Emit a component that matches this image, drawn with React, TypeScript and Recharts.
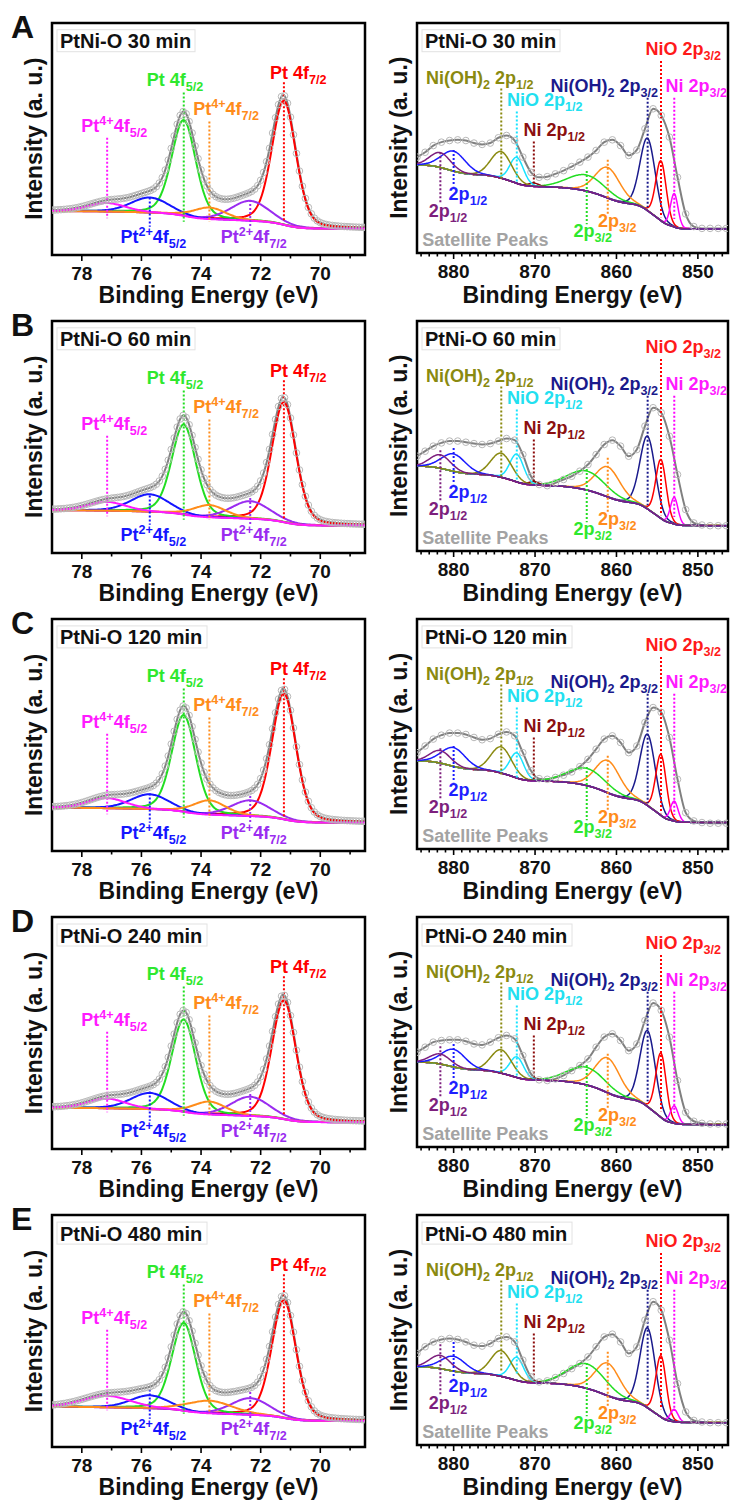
import React from "react";
import {
  ComposedChart,
  Line,
  XAxis,
  YAxis,
  ReferenceLine,
  ReferenceDot,
  ReferenceArea,
} from "recharts";

// XPS Pt 4f / Ni 2p fits for PtNi-O, 5 oxidation times
// intensities are in % of the plot height (0 = bottom of frame)

const FONT = '"Liberation Sans", Arial, Helvetica, sans-serif';

// ---- Pt 4f components: [Pt 4f7/2, Pt 4f5/2, Pt2+ 4f7/2, Pt2+ 4f5/2, Pt4+ 4f7/2, Pt4+ 4f5/2]
const PT_CENTER = [71.22, 74.58, 72.35, 75.72, 73.72, 77.15];
const PT_FWHM = [0.95, 0.95, 1.5, 1.5, 1.3, 1.5];
const PT_FWHM_480 = [0.95, 0.95, 1.5, 1.5, 1.8, 1.9];
const PT_COLOR = ["#ff0000", "#22dd22", "#9a2cf0", "#1515ff", "#ff8c1a", "#ff1aff"];
const PT_HEIGHT_30 = [53.5, 41.4, 8.6, 6.6, 5.0, 3.7];
const PT_HEIGHT_60 = [51.8, 38.9, 7.6, 7.6, 5.3, 3.8];
const PT_HEIGHT_120 = [54.3, 41.8, 6.8, 6.5, 6.2, 4.4];
const PT_HEIGHT_240 = [51.3, 39.9, 8.3, 7.1, 5.6, 4.2];
const PT_HEIGHT_480 = [50.8, 38.0, 7.2, 5.7, 5.5, 5.0];
// Shirley background end levels [low BE side, high BE side]
const PT_BG_30 = [11.3, 18.9];
const PT_BG_60 = [11.8, 18.4];
const PT_BG_120 = [12.2, 18.6];
const PT_BG_240 = [11.5, 17.7];
const PT_BG_480 = [11.2, 17.3];
const PT_TICKS = [69, 70, 71, 72, 73, 74, 75, 76, 77, 78];

// ---- Ni 2p components:
// [Ni(OH)2 2p3/2, NiO 2p3/2, Ni 2p3/2, sat 2p3/2 (orange), sat 2p3/2 (green),
//  Ni 2p1/2, NiO 2p1/2, Ni(OH)2 2p1/2, sat 2p1/2 (blue), sat 2p1/2 (purple)]
const NI_CENTER = [856.17, 854.53, 852.9, 861.07, 863.65, 870.15, 872.24, 874.15, 880.0, 881.63];
const NI_FWHM = [2.2, 1.5, 1.1, 3.6, 5.5, 1.5, 2.0, 3.0, 3.5, 3.0];
const NI_COLOR = ["#1a1a8c", "#ff0000", "#ff00ff", "#ff8c1a", "#22dd22", "#8b0a0a", "#19e3ff", "#8a8a10", "#1a1aff", "#7d1f7d"];
const NI_HEIGHT_30 = [31.5, 26.1, 14.5, 13.3, 7.0, 1.5, 11.3, 11.6, 8.7, 6.5];
const NI_HEIGHT_60 = [31.7, 25.7, 11.6, 13.1, 8.3, 1.5, 12.1, 10.5, 7.6, 5.9];
const NI_HEIGHT_120 = [31.0, 26.6, 8.7, 14.1, 7.5, 0.5, 10.9, 11.4, 8.2, 5.5];
const NI_HEIGHT_240 = [33.1, 28.0, 7.6, 15.2, 7.7, 0.7, 9.0, 10.2, 7.7, 4.4];
const NI_HEIGHT_480 = [34.8, 26.7, 5.4, 14.2, 10.7, 0.9, 10.1, 11.2, 6.5, 5.8];
const NI_BG_30 = [10.4, 38.3];
const NI_BG_60 = [11.0, 36.9];
const NI_BG_120 = [11.5, 38.3];
const NI_BG_240 = [9.7, 36.9];
const NI_BG_480 = [9.7, 34.0];
// measured Ni 2p spectrum, 884.5 eV down to 846.5 eV in 1 eV steps
const NI_SPEC_30 = [41.7, 43.8, 46.7, 48.2, 48.9, 49.2, 48.9, 47.8, 47.2, 47.8, 50.1, 51.1, 48.9, 41.7, 35.1, 32.9, 33.2, 34.4, 35.8, 37.6, 39.5, 41.7, 44.6, 48.2, 49.2, 46.7, 42.4, 44.8, 54.0, 62.7, 59.8, 50.4, 32.9, 17.0, 11.5, 10.7, 10.7, 10.7, 10.7];
const NI_SPEC_60 = [41.2, 43.4, 45.6, 47.0, 47.8, 47.8, 47.3, 46.7, 46.3, 46.7, 47.8, 48.9, 48.2, 41.9, 32.5, 28.9, 28.4, 29.6, 31.1, 32.5, 34.7, 37.6, 41.9, 46.3, 48.2, 45.6, 41.2, 44.1, 54.3, 62.3, 60.1, 49.9, 33.2, 18.0, 12.2, 11.3, 11.0, 11.0, 11.0];
const NI_SPEC_120 = [41.9, 44.8, 47.8, 49.5, 50.4, 50.4, 49.8, 48.5, 47.5, 48.0, 49.9, 50.9, 49.2, 41.9, 34.0, 30.6, 30.3, 31.1, 32.1, 33.5, 35.8, 39.0, 43.4, 47.8, 49.2, 46.3, 41.9, 44.8, 55.0, 61.5, 59.4, 48.5, 30.3, 15.8, 12.2, 11.5, 11.2, 11.2, 11.2];
const NI_SPEC_240 = [41.2, 43.4, 45.6, 46.3, 46.6, 46.6, 46.0, 44.8, 44.4, 45.6, 47.5, 48.5, 47.0, 39.8, 31.8, 29.2, 28.9, 29.6, 31.1, 33.2, 35.4, 38.3, 43.4, 47.8, 49.2, 46.3, 41.9, 44.8, 55.0, 62.6, 59.4, 47.8, 28.9, 15.1, 11.2, 10.3, 10.0, 10.0, 10.0];
const NI_SPEC_480 = [39.8, 42.7, 44.8, 45.9, 46.3, 45.9, 44.8, 43.4, 43.0, 44.1, 46.3, 47.0, 44.8, 36.9, 29.6, 27.4, 27.9, 29.3, 31.1, 33.2, 35.4, 38.3, 42.7, 47.0, 48.2, 44.8, 39.8, 42.7, 54.3, 62.3, 58.6, 45.6, 26.7, 14.4, 10.7, 10.0, 9.7, 9.7, 9.7];
const NI_TICKS = Array.from({ length: 38 }, (_, i) => 847 + i);

const ROWS = [
  { letter: "A", title: "PtNi-O 30 min", ptH: PT_HEIGHT_30, ptBg: PT_BG_30, ptW: PT_FWHM, niH: NI_HEIGHT_30, niBg: NI_BG_30, spec: NI_SPEC_30 },
  { letter: "B", title: "PtNi-O 60 min", ptH: PT_HEIGHT_60, ptBg: PT_BG_60, ptW: PT_FWHM, niH: NI_HEIGHT_60, niBg: NI_BG_60, spec: NI_SPEC_60 },
  { letter: "C", title: "PtNi-O 120 min", ptH: PT_HEIGHT_120, ptBg: PT_BG_120, ptW: PT_FWHM, niH: NI_HEIGHT_120, niBg: NI_BG_120, spec: NI_SPEC_120 },
  { letter: "D", title: "PtNi-O 240 min", ptH: PT_HEIGHT_240, ptBg: PT_BG_240, ptW: PT_FWHM, niH: NI_HEIGHT_240, niBg: NI_BG_240, spec: NI_SPEC_240 },
  { letter: "E", title: "PtNi-O 480 min", ptH: PT_HEIGHT_480, ptBg: PT_BG_480, ptW: PT_FWHM_480, niH: NI_HEIGHT_480, niBg: NI_BG_480, spec: NI_SPEC_480 },
];

type Part = [string, ("sub" | "sup")?];
interface PeakLabel { parts: Part[]; x: number; y: number; color: string; }

const PT_LABELS: PeakLabel[] = [
  { parts: [["Pt 4f"], ["7/2", "sub"]], x: 70.74, y: 75.7, color: "#ff0000" },
  { parts: [["Pt 4f"], ["5/2", "sub"]], x: 74.87, y: 72.7, color: "#2ee82e" },
  { parts: [["Pt"], ["4+", "sup"], ["4f"], ["7/2", "sub"]], x: 73.16, y: 60.3, color: "#ff8c1a" },
  { parts: [["Pt"], ["4+", "sup"], ["4f"], ["5/2", "sub"]], x: 76.91, y: 53.1, color: "#ff1aff" },
  { parts: [["Pt"], ["2+", "sup"], ["4f"], ["5/2", "sub"]], x: 75.6, y: 5.0, color: "#1515ff" },
  { parts: [["Pt"], ["2+", "sup"], ["4f"], ["7/2", "sub"]], x: 72.23, y: 5.0, color: "#9a2cf0" },
];
// dotted marker [top, bottom] for each Pt component
const PT_MARK = [[74.5, 14.3], [70.0, 14.3], [23.7, 12.2], [24.8, 12.2], [57.5, 14.3], [50.5, 15.8]];

const NI_LABELS: PeakLabel[] = [
  { parts: [["Ni(OH)"], ["2", "sub"], [" 2p"], ["1/2", "sub"]], x: 876.8, y: 73.6, color: "#8a8a10" },
  { parts: [["NiO 2p"], ["1/2", "sub"]], x: 868.8, y: 63.7, color: "#22e0f0" },
  { parts: [["Ni 2p"], ["1/2", "sub"]], x: 867.65, y: 50.7, color: "#8b1010" },
  { parts: [["Ni(OH)"], ["2", "sub"], [" 2p"], ["3/2", "sub"]], x: 861.5, y: 69.8, color: "#1a1a8c" },
  { parts: [["NiO 2p"], ["3/2", "sub"]], x: 851.8, y: 85.9, color: "#ff1a1a" },
  { parts: [["Ni 2p"], ["3/2", "sub"]], x: 850.2, y: 69.8, color: "#ff1aff" },
  { parts: [["2p"], ["1/2", "sub"]], x: 880.7, y: 15.7, color: "#7d1f7d" },
  { parts: [["2p"], ["1/2", "sub"]], x: 878.25, y: 22.9, color: "#1f1fff" },
  { parts: [["2p"], ["3/2", "sub"]], x: 862.9, y: 6.8, color: "#2ee82e" },
  { parts: [["2p"], ["3/2", "sub"]], x: 859.9, y: 11.3, color: "#ff8c1a" },
  { parts: [["Satellite Peaks"]], x: 876.1, y: 3.2, color: "#a3a3a3" },
];
const NI_MARK = [[67.5, 19.9], [83.5, 15.5], [67.5, 14.8], [40.5, 16.5], [35.6, 12.5], [48.5, 30.3], [61.5, 30.8], [71.5, 31.5], [44.8, 29.0], [43.8, 21.5]];

// layout
const ROW_TOP = 22.7;
const ROW_STEP = 298.1;
const PT_BOX = { left: 52, right: 365, h: 232 };
const NI_BOX = { left: 417, right: 728, h: 230 };
const AXIS_H = 40;

function pv(x: number, c: number, h: number, w: number, eta: number) {
  const t = (x - c) / w;
  return h * ((1 - eta) * Math.exp(-4 * Math.LN2 * t * t) + eta / (1 + 4 * t * t));
}

// component curves on a Shirley background
function buildFit(lo: number, hi: number, step: number, centers: number[], fwhm: number[], heights: number[], bg: number[], eta: number) {
  const n = Math.round((hi - lo) / step);
  const pts: { e: number; comps: number[]; sum: number }[] = [];
  for (let k = 0; k <= n; k++) {
    const e = +(lo + k * step).toFixed(2);
    const comps = centers.map((c, i) => pv(e, c, heights[i], fwhm[i], eta));
    pts.push({ e, comps, sum: comps.reduce((a, b) => a + b, 0) });
  }
  const total = pts.reduce((a, p) => a + p.sum, 0);
  let acc = 0;
  return pts.map((p, k) => {
    acc += p.sum;
    const b = bg[0] + (bg[1] - bg[0]) * (acc / total);
    const row: any = { e: p.e, k, fit: b + p.sum };
    p.comps.forEach((v, i) => (row["c" + i] = b + v));
    return row;
  });
}

function RichText({ cx, cy, parts, color, size = 18 }: any) {
  let shift = 0;
  return (
    <text x={cx} y={cy} textAnchor="middle" fill={color} fontFamily={FONT} fontWeight="bold" fontSize={size} style={{ whiteSpace: "pre" }}>
      {parts.map((p: Part, i: number) => {
        const target = p[1] === "sub" ? 5 : p[1] === "sup" ? -7 : 0;
        const dy = target - shift;
        shift = target;
        return (
          <tspan key={i} dy={dy} fontSize={p[1] ? size * 0.7 : size}>
            {p[0]}
          </tspan>
        );
      })}
    </text>
  );
}

function AxisTick(props: any) {
  const { x, y, payload, major } = props;
  const v = payload.value;
  const isMajor = v % major === 0;
  return (
    <g>
      <line x1={x} x2={x} y1={y} y2={y + (isMajor ? 6 : 3.5)} stroke="#000" strokeWidth={1.6} />
      {isMajor && (
        <text x={x} y={y + 25} textAnchor="middle" fontFamily={FONT} fontWeight="bold" fontSize={19} fill="#111">
          {v}
        </text>
      )}
    </g>
  );
}

const circleDot = { r: 3.3, stroke: "#b8b8b8", strokeWidth: 1, fill: "none" };

function PtPanel({ row, top }: any) {
  const data = buildFit(68.5, 79, 0.05, PT_CENTER, row.ptW, row.ptH, row.ptBg, 0.25).map((r: any) => ({
    ...r,
    pt: r.k % 2 === 0 ? r.fit : null,
  }));
  return (
    <div style={{ position: "absolute", left: 0, top: top - 10 }}>
      <ComposedChart width={PT_BOX.right + 10} height={PT_BOX.h + 10 + AXIS_H} data={data} margin={{ top: 10, right: 10, bottom: 0, left: PT_BOX.left }}>
        <XAxis type="number" dataKey="e" domain={[68.5, 79]} reversed allowDataOverflow ticks={PT_TICKS} interval={0}
          tick={<AxisTick major={2} />} tickLine={false} axisLine={false} tickSize={0} tickMargin={0} height={AXIS_H} />
        <YAxis hide type="number" domain={[0, 100]} allowDataOverflow />
        <Line dataKey="pt" stroke="none" dot={circleDot} activeDot={false} isAnimationActive={false} />
        <Line dataKey="fit" stroke="#808080" strokeWidth={2} dot={false} type="monotone" isAnimationActive={false} />
        {PT_CENTER.map((_, i) => (
          <Line key={i} dataKey={"c" + i} stroke={PT_COLOR[i]} strokeWidth={2} dot={false} type="monotone" isAnimationActive={false} />
        ))}
        {PT_CENTER.map((c, i) => (
          <ReferenceLine key={"m" + i} segment={[{ x: c, y: PT_MARK[i][0] }, { x: c, y: PT_MARK[i][1] }]}
            stroke={PT_COLOR[i]} strokeWidth={2} strokeDasharray="2 2" ifOverflow="visible" />
        ))}
        {PT_LABELS.map((l, i) => (
          <ReferenceDot key={"l" + i} x={l.x} y={l.y} r={0} ifOverflow="visible"
            shape={(p: any) => <RichText cx={p.cx} cy={p.cy} parts={l.parts} color={l.color} />} />
        ))}
        <ReferenceArea x1={79} x2={68.5} y1={0} y2={100} fill="none" fillOpacity={0} stroke="#000" strokeWidth={2.5} ifOverflow="visible" />
      </ComposedChart>
    </div>
  );
}

function NiPanel({ row, top }: any) {
  const data = buildFit(846.5, 884.5, 0.1, NI_CENTER, NI_FWHM, row.niH, row.niBg, 0.1).map((r: any) => ({
    ...r,
    env: r.k % 10 === 0 ? row.spec[38 - r.k / 10] : null,
  }));
  return (
    <div style={{ position: "absolute", left: NI_BOX.left - 17, top: top - 10 }}>
      <ComposedChart width={NI_BOX.right - NI_BOX.left + 19} height={NI_BOX.h + 10 + AXIS_H} data={data} margin={{ top: 10, right: 2, bottom: 0, left: 17 }}>
        <XAxis type="number" dataKey="e" domain={[846.3, 884.5]} reversed allowDataOverflow ticks={NI_TICKS} interval={0}
          tick={<AxisTick major={10} />} tickLine={false} axisLine={false} tickSize={0} tickMargin={0} height={AXIS_H} />
        <YAxis hide type="number" domain={[0, 100]} allowDataOverflow />
        <Line dataKey="env" stroke="none" dot={circleDot} activeDot={false} isAnimationActive={false} />
        <Line dataKey="env" stroke="#808080" strokeWidth={2} dot={false} type="monotone" connectNulls isAnimationActive={false} />
        {NI_CENTER.map((_, i) => (
          <Line key={i} dataKey={"c" + i} stroke={NI_COLOR[i]} strokeWidth={1.5} dot={false} type="monotone" isAnimationActive={false} />
        ))}
        {NI_CENTER.map((c, i) => (
          <ReferenceLine key={"m" + i} segment={[{ x: c, y: NI_MARK[i][0] }, { x: c, y: NI_MARK[i][1] }]}
            stroke={NI_COLOR[i]} strokeWidth={2} strokeDasharray="2 2" ifOverflow="visible" />
        ))}
        {NI_LABELS.map((l, i) => (
          <ReferenceDot key={"l" + i} x={l.x} y={l.y} r={0} ifOverflow="visible"
            shape={(p: any) => <RichText cx={p.cx} cy={p.cy} parts={l.parts} color={l.color} />} />
        ))}
        <ReferenceArea x1={884.5} x2={846.3} y1={0} y2={100} fill="none" fillOpacity={0} stroke="#000" strokeWidth={2.5} ifOverflow="visible" />
      </ComposedChart>
    </div>
  );
}

export default function App() {
  return (
    <div style={{ position: "absolute", left: 0, top: 0, width: 730, height: 1504, overflow: "hidden", background: "#fff", fontFamily: FONT }}>
      {ROWS.map((row, i) => {
        const top = ROW_TOP + ROW_STEP * i;
        return (
          <React.Fragment key={row.letter}>
            <PtPanel row={row} top={top} />
            <NiPanel row={row} top={top} />
          </React.Fragment>
        );
      })}
      <svg width={730} height={1504} style={{ position: "absolute", left: 0, top: 0, pointerEvents: "none" }}>
        {ROWS.map((row, i) => {
          const top = ROW_TOP + ROW_STEP * i;
          const tw = row.title.length > 13 ? 150 : 138;
          const ptMid = (PT_BOX.left + PT_BOX.right) / 2;
          const niMid = (NI_BOX.left + NI_BOX.right) / 2;
          return (
            <g key={row.letter} fontFamily={FONT} fontWeight="bold" fill="#111">
              <text x={11} y={top + 15} fontSize={32}>{row.letter}</text>
              {[PT_BOX.left + 5, NI_BOX.left + 5].map((bx) => (
                <g key={bx}>
                  <rect x={bx} y={top + 7} width={tw} height={22} fill="#fff" stroke="#e2e2e2" strokeWidth={1} />
                  <text x={bx + 3} y={top + 25.5} fontSize={20}>{row.title}</text>
                </g>
              ))}
              <text transform={`translate(${42},${top + PT_BOX.h / 2}) rotate(-90)`} textAnchor="middle" fontSize={23}>Intensity (a. u.)</text>
              <text transform={`translate(${407},${top + NI_BOX.h / 2}) rotate(-90)`} textAnchor="middle" fontSize={23}>Intensity (a. u.)</text>
              <text x={ptMid} y={top + PT_BOX.h + 48} textAnchor="middle" fontSize={23}>Binding Energy (eV)</text>
              <text x={niMid} y={top + NI_BOX.h + 50} textAnchor="middle" fontSize={23}>Binding Energy (eV)</text>
            </g>
          );
        })}
      </svg>
    </div>
  );
}
